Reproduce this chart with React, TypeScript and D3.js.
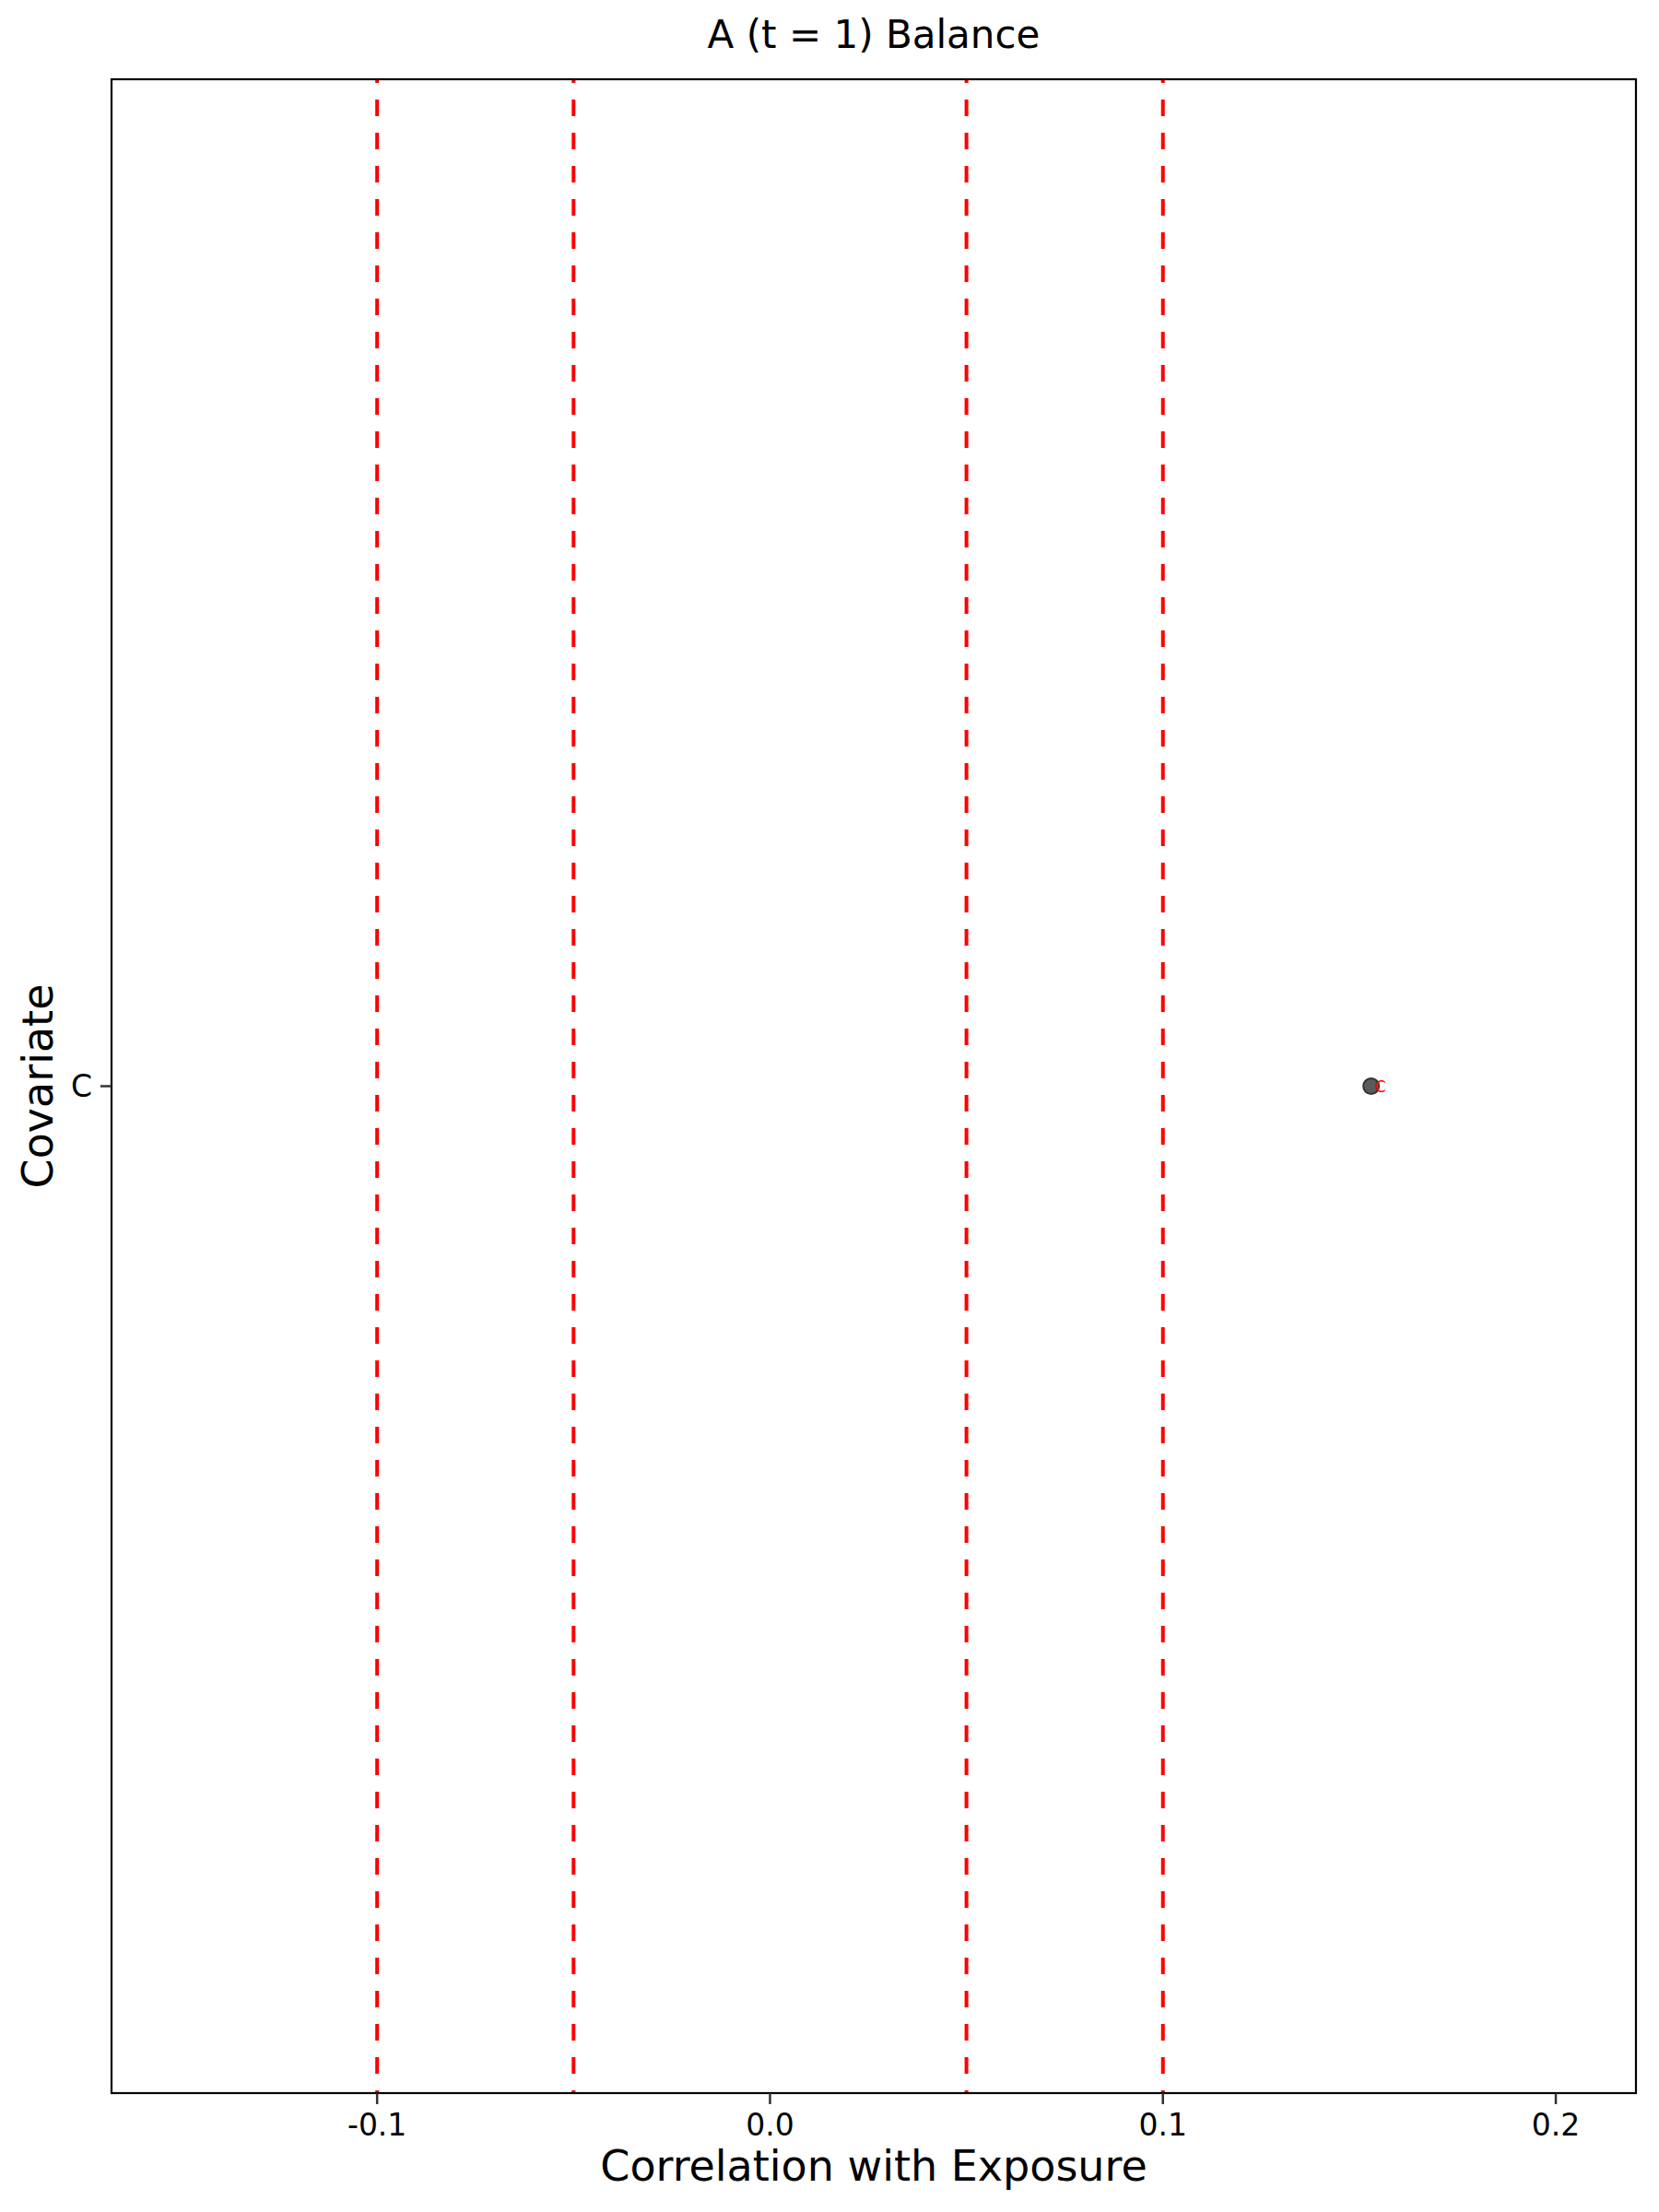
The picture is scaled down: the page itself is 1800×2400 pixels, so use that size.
import React from "react";
import * as d3 from "d3";

const covariates = ["C"];
const correlations = [0.153];
const pointLabels = ["C"];
const thresholds = [-0.1, -0.05, 0.05, 0.1];
const xTicks = [-0.1, 0.0, 0.1, 0.2];
const xDomain = [-0.1676, 0.2204];
const title = "A (t = 1) Balance";
const xTitle = "Correlation with Exposure";
const yTitle = "Covariate";

const W = 1800;
const H = 2400;
const panel = { left: 121, right: 1775, top: 86, bottom: 2271 };
const FONT = "DejaVu Sans, sans-serif";

export default function App() {
  const x = d3.scaleLinear().domain(xDomain).range([panel.left, panel.right]);
  const y = d3
    .scalePoint<string>()
    .domain(covariates)
    .range([panel.top, panel.bottom])
    .padding(0.5);
  const cx = (panel.left + panel.right) / 2;
  const cy = (panel.top + panel.bottom) / 2;
  const fmt = (v: number) => d3.format(".1f")(v).replace("\u2212", "-");

  return (
    <svg
      width={W}
      height={H}
      style={{ position: "absolute", left: 0, top: 0, background: "#fff" }}
      fontFamily={FONT}
    >
      <rect x={0} y={0} width={W} height={H} fill="#fff" />
      <text x={cx} y={52} textAnchor="middle" fontSize={42} fill="#000">
        {title}
      </text>
      {thresholds.map((t) => (
        <line
          key={t}
          x1={x(t)}
          x2={x(t)}
          y1={panel.bottom}
          y2={panel.top}
          stroke="#ff0000"
          strokeWidth={4}
          strokeDasharray="18 18"
          strokeDashoffset={15}
        />
      ))}
      {covariates.map((c, i) => (
        <g key={c}>
          <circle
            cx={x(correlations[i])}
            cy={y(c)}
            r={8.5}
            fill="#5a5a5a"
            stroke="#333"
            strokeWidth={2}
          />
          <text
            x={x(correlations[i]) + 4}
            y={y(c)}
            dy="0.36em"
            fontSize={17}
            fill="#ff0000"
          >
            {pointLabels[i]}
          </text>
        </g>
      ))}
      <rect
        x={panel.left}
        y={panel.top}
        width={panel.right - panel.left}
        height={panel.bottom - panel.top}
        fill="none"
        stroke="#000"
        strokeWidth={2.2}
      />
      {xTicks.map((t) => (
        <g key={t}>
          <line
            x1={x(t)}
            x2={x(t)}
            y1={panel.bottom}
            y2={panel.bottom + 12}
            stroke="#333"
            strokeWidth={2.5}
          />
          <text
            x={x(t)}
            y={2317}
            textAnchor="middle"
            fontSize={33}
            fill="#000"
          >
            {fmt(t)}
          </text>
        </g>
      ))}
      {covariates.map((c) => (
        <g key={"yt" + c}>
          <line
            x1={panel.left - 12}
            x2={panel.left}
            y1={y(c)}
            y2={y(c)}
            stroke="#333"
            strokeWidth={2.5}
          />
          <text
            x={panel.left - 21}
            y={y(c)}
            dy="0.35em"
            textAnchor="end"
            fontSize={33}
            fill="#000"
          >
            {c}
          </text>
        </g>
      ))}
      <text x={cx} y={2366} textAnchor="middle" fontSize={46} fill="#000">
        {xTitle}
      </text>
      <text
        transform={`translate(57, ${cy}) rotate(-90)`}
        textAnchor="middle"
        fontSize={46}
        fill="#000"
      >
        {yTitle}
      </text>
    </svg>
  );
}
